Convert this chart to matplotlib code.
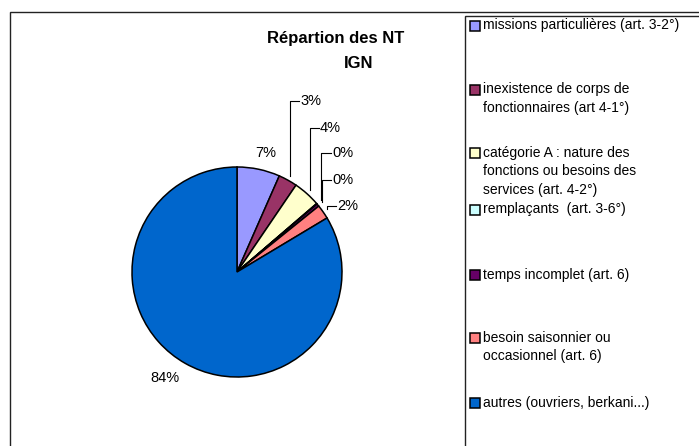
import numpy as np
import matplotlib
matplotlib.use("Agg")
import matplotlib.pyplot as plt
from matplotlib.patches import Rectangle

plt.rcParams['font.family'] = ['Liberation Sans', 'DejaVu Sans']

# données (parts en %)
categories = [
    "missions particulières (art. 3-2°)",
    "inexistence de corps de\nfonctionnaires (art 4-1°)",
    "catégorie A : nature des\nfonctions ou besoins des\nservices (art. 4-2°)",
    "remplaçants  (art. 3-6°)",
    "temps incomplet (art. 6)",
    "besoin saisonnier ou\noccasionnel (art. 6)",
    "autres (ouvriers, berkani...)",
]
values = [6.6, 2.9, 4.2, 0.1, 0.4, 2.2, 83.6]
colors = ["#9999FF", "#993366", "#FFFFCC", "#CCFFFF", "#660066", "#FF8080", "#0066CC"]
title_lines = ["Répartion des NT", "IGN"]

W, H = 699, 446

def py(y):
    # pixel (haut -> bas) vers coordonnées de l'axe
    return H - y

fig = plt.figure(figsize=(W / 100, H / 100), dpi=100)
ax = fig.add_axes([0, 0, 1, 1])

cx, cy, r = 237, py(272), 105
wedges, _ = ax.pie(values, colors=colors, startangle=90, counterclock=False,
                   center=(cx, cy), radius=r,
                   wedgeprops=dict(edgecolor="black", linewidth=1.1))

ax.set_xlim(0, W)
ax.set_ylim(0, H)
ax.set_aspect("auto")
ax.axis("off")

# cadres (zone du graphique + légende)
ax.add_patch(Rectangle((9.5, -10), W + 20, py(12) + 10, fill=False,
                       edgecolor="#222222", linewidth=1.0))
ax.add_patch(Rectangle((464.5, -10), W, py(15.5) + 10, fill=False,
                       edgecolor="#222222", linewidth=1.0))

# titre
ax.text(336, py(38), title_lines[0], fontsize=12, fontweight="bold",
        ha="center", va="center")
ax.text(359, py(63), title_lines[1], fontsize=12, fontweight="bold",
        ha="center", va="center")

# étiquettes des pourcentages : (x, y en pixels, trait de rappel ?)
pct = [f"{v:.0f}%" for v in values]
label_pos = [(266, 153, False), (300, 101, True), (320, 128, True),
             (332, 153, True), (332, 180, True), (337, 206, True),
             (165, 378, False)]

for w, txt, (lx, ly, lead) in zip(wedges, pct, label_pos):
    if not lead:
        ax.text(lx, py(ly), txt, fontsize=10.5, ha="center", va="center")
        continue
    a = np.deg2rad((w.theta1 + w.theta2) / 2)
    ex = cx + 1.05 * r * np.cos(a)
    ey = cy + 1.05 * r * np.sin(a)
    ax.plot([ex, ex, lx - 1], [ey, py(ly), py(ly)], color="black", linewidth=0.8)
    ax.text(lx, py(ly), txt, fontsize=10.5, ha="left", va="center")

# légende
leg_y = [26, 90, 153, 210, 275, 338, 403]
for lab, col, y in zip(categories, colors, leg_y):
    ax.add_patch(Rectangle((469.5, py(y) - 5), 10, 10, facecolor=col,
                           edgecolor="black", linewidth=1.1))
    ax.text(483, py(y) + 7.5, lab, fontsize=10, ha="left", va="top",
            linespacing=1.45)

fig.savefig("out.png", dpi=100)
